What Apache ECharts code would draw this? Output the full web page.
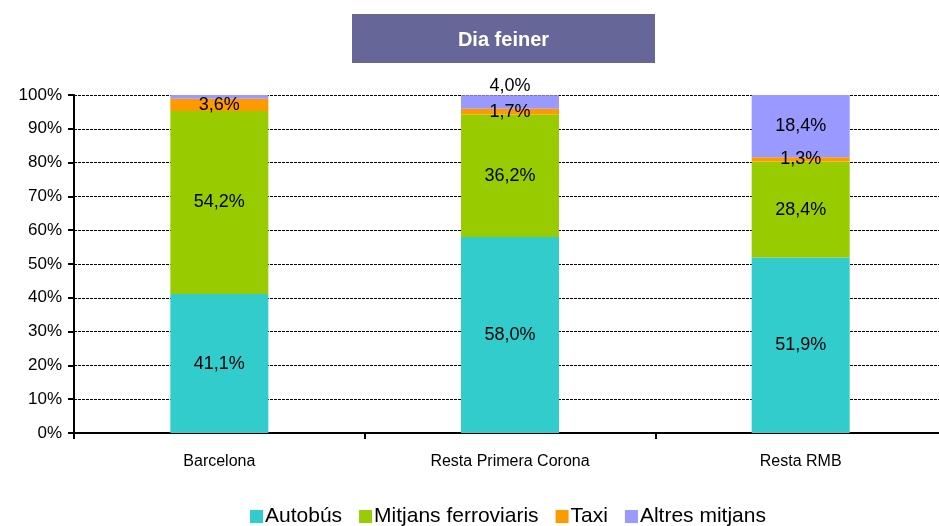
<!DOCTYPE html>
<html><head><meta charset="utf-8">
<script src="https://cdn.jsdelivr.net/npm/echarts@6/dist/echarts.min.js"></script>
<style>html,body{margin:0;padding:0;background:#fff;overflow:hidden}#c{width:939px;height:526px}</style>
</head><body><div id="c"></div>
<script>
const categories = ['Barcelona', 'Resta Primera Corona', 'Resta RMB'];
const autobus = [41.1, 58.0, 51.9];
const ferroviaris = [54.2, 36.2, 28.4];
const taxi = [3.6, 1.7, 1.3];
const altres = [1.1, 4.0, 18.4];
const yTicks = [0,10,20,30,40,50,60,70,80,90,100];
const seriesNames = ['Autobús', 'Mitjans ferroviaris', 'Taxi', 'Altres mitjans'];
const colors = ['#33CCCC', '#99CC00', '#FF9900', '#9999FF'];

const fmt = v => v.toFixed(1).replace('.', ',') + '%';
const lbl = {show: true, position: 'inside', color: '#000', fontFamily: 'Liberation Sans, Arial', fontSize: 18,
  formatter: p => fmt(p.value)};

function mk(name, vals, color, overrides) {
  return {
    name, type: 'bar', stack: 's', barWidth: 98,
    itemStyle: {color},
    label: lbl,
    data: vals.map((v, i) => overrides && overrides[i] ? Object.assign({value: v}, overrides[i]) : v)
  };
}

const chart = echarts.init(document.getElementById('c'));
chart.setOption({
  animation: false,
  textStyle: {fontFamily: 'Liberation Sans, Arial'},
  grid: {left: 74, width: 872, top: 95, bottom: 93, outerBoundsMode: 'none', containLabel: false},
  graphic: [{
    type: 'group', left: 352, top: 14,
    children: [
      {type: 'rect', shape: {x: 0, y: 0, width: 303, height: 49}, style: {fill: '#666699'}},
      {type: 'text', x: 151.5, y: 26, style: {text: 'Dia feiner', fill: '#fff', font: 'bold 20px "Liberation Sans", Arial', align: 'center', verticalAlign: 'middle'}}
    ]
  }],
  legend: {
    bottom: -6, left: 245, itemWidth: 13, itemHeight: 13, itemGap: 17,
    icon: 'rect',
    textStyle: {fontSize: 21, color: '#000', padding: [0, 0, 0, -3]},
    data: seriesNames
  },
  xAxis: {
    type: 'category', data: categories,
    axisLine: {lineStyle: {color: '#000', width: 2}},
    axisTick: {show: true, length: 6, lineStyle: {color: '#000', width: 2}},
    axisLabel: {color: '#000', fontSize: 16, margin: 21}
  },
  yAxis: {
    type: 'value', min: 0, max: 100, interval: 10,
    axisLine: {show: true, lineStyle: {color: '#000', width: 2}},
    axisTick: {show: true, length: 6, lineStyle: {color: '#000', width: 2}},
    axisLabel: {color: '#000', fontSize: 17, margin: 12, formatter: v => yTicks.includes(v) ? v + '%' : ''},
    splitLine: {show: true, lineStyle: {color: '#000', type: [3, 1], width: 1}}
  },
  series: [
    mk(seriesNames[0], autobus, colors[0]),
    mk(seriesNames[1], ferroviaris, colors[1]),
    mk(seriesNames[2], taxi, colors[2]),
    mk(seriesNames[3], altres, colors[3], [{label: {show: false}}, {label: {position: 'top', distance: 0}}, null])
  ]
});
</script></body></html>
